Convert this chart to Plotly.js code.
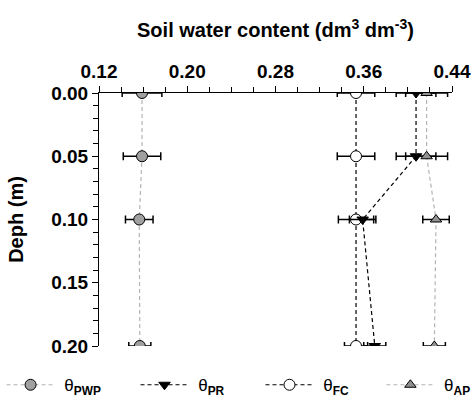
<!DOCTYPE html>
<html>
<head>
<meta charset="utf-8">
<script src="https://cdn.plot.ly/plotly-3.0.1.min.js"></script>
<style>html,body{margin:0;padding:0;background:#fff;}#chart{width:474px;height:403px;}</style>
</head>
<body>
<div id="chart"></div>
<script>
const depth = [0.00, 0.05, 0.10, 0.20];
const pwp = [0.159, 0.159, 0.1565, 0.157];
const pwpErr = [0.018, 0.017, 0.0125, 0.010];
const pr = [0.4074, 0.4074, 0.359, 0.370];
const prErr = [0.018, 0.018, 0.012, 0.010];
const fc = [0.353, 0.353, 0.353, 0.353];
const fcErr = [0.017, 0.017, 0.016, 0.0105];
const ap = [0.417, 0.417, 0.4255, 0.424];
const apErr = [0.019, 0.019, 0.012, 0.010];
const xTickVals = [0.12, 0.20, 0.28, 0.36, 0.44];
const xTickText = ['0.12', '0.20', '0.28', '0.36', '0.44'];
const yTickVals = [0.00, 0.05, 0.10, 0.15, 0.20];
const yTickText = ['0.00', '0.05', '0.10', '0.15', '0.20'];

const FONT = 'Liberation Sans, Arial, sans-serif';
const SP = '\u00a0';
function tr(x, err, name, dashColor, sym, fill, leg) {
  return {
    x: x, y: depth, type: 'scatter', mode: 'lines+markers', name: SP + name,
    legend: leg,
    line: {color: dashColor, width: 1.2, dash: '4px,3px'},
    marker: {symbol: sym, size: sym === 'circle' ? 11 : 10, color: fill, line: {color: '#000', width: 1}},
    error_x: {type: 'data', array: err, visible: true, color: '#000', thickness: 1.5, width: 4}
  };
}
const data = [
  tr(pwp, pwpErr, 'θ<sub><b>PWP</b></sub>', '#b4b4b4', 'circle', '#a0a0a0', 'legend'),
  tr(fc, fcErr, 'θ<sub><b>FC</b></sub>', '#000000', 'circle', '#ffffff', 'legend3'),
  tr(pr, prErr, 'θ<sub><b>PR</b></sub>', '#000000', 'triangle-down', '#000000', 'legend2'),
  tr(ap, apErr, 'θ<sub><b>AP</b></sub>', '#b4b4b4', 'triangle-up', '#909090', 'legend4')
];
function leg(x) {
  return {orientation: 'h', x: x, xanchor: 'left', y: -0.155, yanchor: 'middle',
          font: {size: 17, family: FONT}, itemwidth: 48, bgcolor: 'rgba(0,0,0,0)'};
}
const layout = {
  width: 474, height: 403,
  margin: {l: 99, r: 22, t: 93, b: 57, autoexpand: false},
  paper_bgcolor: '#fff', plot_bgcolor: '#fff',
  font: {family: FONT, color: '#000'},
  showlegend: true,
  legend: leg(-0.276),
  legend2: leg(0.1034),
  legend3: leg(0.4575),
  legend4: leg(0.80),
  xaxis: {
    side: 'top', range: [0.12, 0.44], tickvals: xTickVals,
    ticktext: xTickText.map(t => '<b>' + t + '</b>'),
    ticks: 'outside', ticklen: 6, tickwidth: 1, tickcolor: '#000',
    minor: {dtick: 0.02, ticks: 'outside', ticklen: 5, tickwidth: 1, tickcolor: '#000', showgrid: false},
    showline: true, linecolor: '#000', linewidth: 1, showgrid: false, zeroline: false,
    tickfont: {size: 19, family: FONT},
    title: {text: '<b>Soil water content (dm<sup>3</sup> dm<sup>-3</sup>)</b>', font: {size: 20, family: FONT}, standoff: 18}
  },
  yaxis: {
    range: [0.20, 0.00], tickvals: yTickVals,
    ticktext: yTickText.map(t => '<b>' + t + '</b>'),
    ticks: 'outside', ticklen: 6, tickwidth: 1, tickcolor: '#000',
    minor: {dtick: 0.01, ticks: 'outside', ticklen: 5, tickwidth: 1, tickcolor: '#000', showgrid: false},
    showline: true, linecolor: '#000', linewidth: 1, showgrid: false, zeroline: false,
    tickfont: {size: 19, family: FONT},
    title: {text: '<b>Deph (m)</b>', font: {size: 20, family: FONT}, standoff: 22}
  }
};
Plotly.newPlot('chart', data, layout, {displayModeBar: false, staticPlot: true});
</script>
</body>
</html>
